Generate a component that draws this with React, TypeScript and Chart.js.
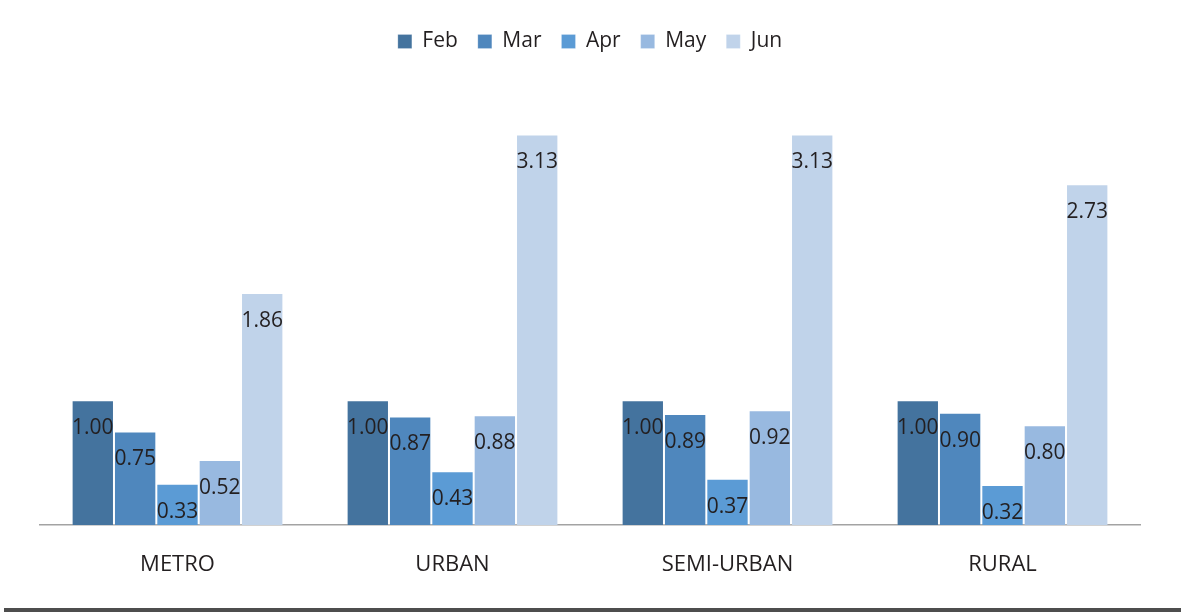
import React, { useEffect, useRef } from "react";
import { Chart, registerables } from "chart.js";

Chart.register(...registerables);

const categories = ["METRO", "URBAN", "SEMI-URBAN", "RURAL"];
const seriesNames = ["Feb", "Mar", "Apr", "May", "Jun"];
const feb = [1.0, 1.0, 1.0, 1.0];
const mar = [0.75, 0.87, 0.89, 0.9];
const apr = [0.33, 0.43, 0.37, 0.32];
const may = [0.52, 0.88, 0.92, 0.8];
const jun = [1.86, 3.13, 3.13, 2.73];
const seriesValues = [feb, mar, apr, may, jun];
const colors = ["#44739e", "#4f87bd", "#5b9bd5", "#98b9e0", "#c0d3ea"];

const FONT = "'Open Sans', 'Noto Sans', sans-serif";

const labelPlugin = {
  id: "valueLabels",
  afterDatasetsDraw(chart: any) {
    const ctx = chart.ctx;
    ctx.save();
    ctx.font = `21px ${FONT}`;
    ctx.fillStyle = "#231f20";
    ctx.textAlign = "center";
    ctx.textBaseline = "middle";
    chart.data.datasets.forEach((ds: any, i: number) => {
      const meta = chart.getDatasetMeta(i);
      meta.data.forEach((el: any, j: number) => {
        ctx.fillText(Number(ds.data[j]).toFixed(2), el.x, el.y + 28);
      });
    });
    ctx.restore();
  },
};

const frameLine = {
  id: "frameLine",
  afterDraw(chart: any) {
    const ctx = chart.ctx;
    ctx.save();
    ctx.fillStyle = "#4d4d4d";
    ctx.fillRect(4, chart.height - 4, chart.width - 4, 4);
    ctx.restore();
  },
};

export default function App() {
  const ref = useRef<HTMLCanvasElement>(null);
  useEffect(() => {
    document.body.style.margin = "0";
    const chart = new Chart(ref.current!, {
      type: "bar",
      data: {
        labels: categories,
        datasets: seriesNames.map((name, i) => ({
          label: name,
          data: seriesValues[i],
          backgroundColor: colors[i],
          borderColor: "rgba(255,255,255,0.2)",
          borderWidth: 1,
          categoryPercentage: 0.77,
          barPercentage: 1,
        })),
      },
      options: {
        animation: false,
        responsive: false,
        layout: { padding: { left: 40, right: 41, top: 11, bottom: 0 } },
        plugins: {
          tooltip: { enabled: false },
          legend: {
            position: "top",
            labels: {
              boxWidth: 14,
              boxHeight: 14,
              padding: 20,
              color: "#231f20",
              font: { family: FONT, size: 21 },
            },
          },
        },
        scales: {
          x: {
            grid: { display: false, drawTicks: false },
            border: { display: true, color: "#a3a3a3", width: 1.5 },
            ticks: {
              color: "#231f20",
              font: { family: FONT, size: 22 },
              padding: 27,
            },
            afterFit(scale: any) {
              scale.height = 87;
            },
          },
          y: {
            display: false,
            min: 0,
            max: 3.71,
          },
        },
      },
      plugins: [labelPlugin, frameLine],
    });
    return () => chart.destroy();
  }, []);
  return (
    <div style={{ position: "absolute", left: 0, top: 0, width: 1181, height: 612 }}>
      <canvas ref={ref} width={1181} height={612} style={{ display: "block" }} />
    </div>
  );
}
